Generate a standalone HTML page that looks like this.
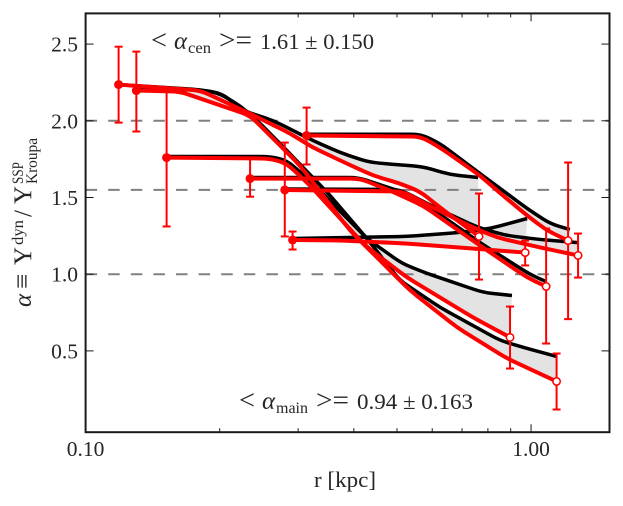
<!DOCTYPE html>
<html>
<head>
<meta charset="utf-8">
<title>Alpha vs radius chart</title>
<style>
html,body{margin:0;padding:0;background:#fff;width:623px;height:506px;overflow:hidden}
svg{display:block}
text{font-family:"Liberation Serif","DejaVu Serif",serif;fill:#262626}
</style>
</head>
<body>
<svg id="chart" width="623" height="506" viewBox="0 0 623 506" xmlns="http://www.w3.org/2000/svg">
  <g id="shades"></g>
  <g id="refs"></g>
  <g id="blacks"></g>
  <g id="reds"></g>
  <g id="errs"></g>
  <g id="dots"></g>
  <g id="axes"></g>

  <g font-size="22">
    <text x="151" y="49" font-size="27" textLength="16" lengthAdjust="spacingAndGlyphs">&lt;</text>
    <text x="174" y="49" font-style="italic" font-size="25">α</text>
    <text x="188" y="53" font-size="16" textLength="23" lengthAdjust="spacingAndGlyphs">cen</text>
    <text x="219" y="49" font-size="27" textLength="33" lengthAdjust="spacingAndGlyphs">&gt;=</text>
    <text x="260" y="49" textLength="114" lengthAdjust="spacingAndGlyphs">1.61 ± 0.150</text>
  </g>
  <g font-size="22">
    <text x="239" y="409" font-size="27" textLength="16" lengthAdjust="spacingAndGlyphs">&lt;</text>
    <text x="262" y="409" font-style="italic" font-size="25">α</text>
    <text x="276" y="413" font-size="16" textLength="32" lengthAdjust="spacingAndGlyphs">main</text>
    <text x="316" y="409" font-size="27" textLength="33" lengthAdjust="spacingAndGlyphs">&gt;=</text>
    <text x="357" y="409" textLength="116" lengthAdjust="spacingAndGlyphs">0.94 ± 0.163</text>
  </g>

  <text x="314" y="487" font-size="22.5" textLength="62" lengthAdjust="spacingAndGlyphs">r [kpc]</text>

  <g transform="translate(31,0) rotate(-90)" font-size="21">
    <text x="-307" y="0" font-style="italic" font-size="25">α</text>
    <text x="-289" y="0" font-size="27">≡</text>
    <text x="-265" y="0" font-size="25">Υ</text>
    <text x="-245" y="-8" font-size="16" textLength="25" lengthAdjust="spacingAndGlyphs">dyn</text>
    <text x="-217" y="0" font-size="25">/</text>
    <text x="-204" y="0" font-size="25">Υ</text>
    <text x="-184" y="-8" font-size="16" textLength="22" lengthAdjust="spacingAndGlyphs">SSP</text>
    <text x="-184" y="6" font-size="16" textLength="46" lengthAdjust="spacingAndGlyphs">Kroupa</text>
  </g>
</svg>
<script>
var NS = 'http://www.w3.org/2000/svg';

// axis limits
var xMin = 0.1, xMax = 1.5, yMin = -0.03, yMax = 2.7;
var xTickMajor = [1.0];
var xTickMinor = [0.2, 0.3, 0.4, 0.5, 0.6, 0.7, 0.8, 0.9];
var xTickLabels = ['0.10', '1.00'];
var xTickLabelValues = [0.1, 1.0];
var yTicks = [0.5, 1.0, 1.5, 2.0, 2.5];
var yTickLabels = ['0.5', '1.0', '1.5', '2.0', '2.5'];
var refLevels = [1.0, 1.55, 2.0];

// black profiles
var blackR1 = [0.1186, 0.181, 0.2025, 0.226, 0.264, 0.324, 0.3726, 0.428, 0.465, 0.569, 0.658, 0.7605];
var blackA1 = [2.236, 2.203, 2.177, 2.066, 2.001, 1.871, 1.793, 1.734, 1.721, 1.702, 1.650, 1.630];
var blackR2 = [0.130, 0.172, 0.198, 0.222, 0.243, 0.283, 0.354, 0.428, 0.508, 0.625, 0.852, 0.980, 1.141];
var blackA2 = [2.203, 2.203, 2.184, 2.099, 2.001, 1.806, 1.513, 1.233, 0.959, 0.783, 0.568, 0.516, 0.464];
var blackR3 = [0.152, 0.2595, 0.283, 0.319, 0.428, 0.513, 0.584, 0.682, 0.780, 0.906];
var blackA3 = [1.767, 1.767, 1.741, 1.610, 1.233, 1.070, 1.005, 0.939, 0.881, 0.861];
var blackR4 = [0.234, 0.409, 0.543, 0.768, 0.995, 1.081];
var blackA4 = [1.630, 1.630, 1.513, 1.206, 0.998, 0.952];
var blackR5 = [0.280, 0.508, 0.609, 0.7605, 0.883, 1.048, 1.275];
var blackA5 = [1.555, 1.552, 1.434, 1.304, 1.252, 1.226, 1.206];
var blackR6 = [0.3134, 0.566, 0.625, 0.768, 0.980, 1.103, 1.222];
var blackA6 = [1.912, 1.912, 1.851, 1.656, 1.428, 1.330, 1.291];
var blackR7 = [0.2915, 0.527, 0.693, 0.809, 0.980];
var blackA7 = [1.233, 1.246, 1.272, 1.298, 1.363];

// red profiles
var redR1 = [0.1186, 0.181, 0.234, 0.288, 0.324, 0.386, 0.442, 0.508, 0.563, 0.625, 0.764];
var redA1 = [2.236, 2.197, 2.047, 1.917, 1.825, 1.721, 1.643, 1.591, 1.539, 1.434, 1.246];
var redR2 = [0.130, 0.163, 0.234, 0.2595, 0.303, 0.392, 0.470, 0.535, 0.682, 0.883, 1.141];
var redA2 = [2.197, 2.190, 2.034, 1.904, 1.708, 1.285, 1.057, 0.894, 0.653, 0.451, 0.301];
var redR3 = [0.152, 0.2595, 0.283, 0.319, 0.424, 0.527, 0.741, 0.897];
var redA3 = [1.760, 1.754, 1.721, 1.578, 1.187, 0.978, 0.718, 0.588];
var redR4 = [0.234, 0.413, 0.4825, 0.572, 0.768, 0.980, 1.081];
var redA4 = [1.623, 1.623, 1.545, 1.447, 1.187, 0.978, 0.920];
var redR5 = [0.280, 0.516, 0.6025, 0.741, 0.839, 1.048, 1.275];
var redA5 = [1.549, 1.539, 1.434, 1.304, 1.239, 1.174, 1.122];
var redR6 = [0.3134, 0.566, 0.625, 0.768, 0.839, 0.980, 1.086, 1.211];
var redA6 = [1.904, 1.897, 1.825, 1.643, 1.545, 1.382, 1.285, 1.219];
var redR7 = [0.2915, 0.3726, 0.527, 0.741, 0.970];
var redA7 = [1.223, 1.220, 1.200, 1.167, 1.141];

// inner (filled) points with error bars
var innerR = [0.1186, 0.130, 0.152, 0.234, 0.280, 0.3134, 0.2915];
var innerA = [2.236, 2.197, 1.760, 1.623, 1.549, 1.904, 1.223];
var innerHi = [2.483, 2.451, 2.210, 1.760, 1.858, 2.086, 1.278];
var innerLo = [1.988, 1.930, 1.311, 1.505, 1.246, 1.715, 1.161];

// outer (open) points with error bars
var outerR = [0.764, 1.141, 0.897, 1.081, 1.275, 1.211, 0.970];
var outerA = [1.246, 0.301, 0.588, 0.920, 1.122, 1.219, 1.141];
var outerHi = [1.526, 0.483, 0.789, 1.298, 1.265, 1.728, 1.219];
var outerLo = [0.965, 0.118, 0.385, 0.548, 0.978, 0.707, 1.057];

var blackRs = [blackR1, blackR2, blackR3, blackR4, blackR5, blackR6, blackR7];
var blackAs = [blackA1, blackA2, blackA3, blackA4, blackA5, blackA6, blackA7];
var redRs = [redR1, redR2, redR3, redR4, redR5, redR6, redR7];
var redAs = [redA1, redA2, redA3, redA4, redA5, redA6, redA7];

var plotLeft = 85.6, plotRight = 609.5, plotTop = 13.4, plotBottom = 432.2;

function xScale(v) {
  return plotLeft + (Math.log(v / xMin) / Math.log(xMax / xMin)) * (plotRight - plotLeft);
}
function yScale(v) {
  return plotBottom - ((v - yMin) / (yMax - yMin)) * (plotBottom - plotTop);
}
function make(tag, parent, attrs) {
  var el = document.createElementNS(NS, tag);
  for (var k in attrs) el.setAttribute(k, attrs[k]);
  parent.appendChild(el);
  return el;
}
function pts(rs, as) {
  return rs.map(function (r, i) { return [xScale(r), yScale(as[i])]; });
}
function fmt(x, y) { return x.toFixed(2) + ' ' + y.toFixed(2); }
// straight runs joined by softly rounded corners
function curve(p) {
  var s = '', cut = 9;
  for (var i = 1; i < p.length - 1; i++) {
    var a = p[i - 1], b = p[i], c = p[i + 1];
    var la = Math.hypot(b[0] - a[0], b[1] - a[1]), lb = Math.hypot(c[0] - b[0], c[1] - b[1]);
    var ca = Math.min(cut, la * 0.45), cb = Math.min(cut, lb * 0.45);
    s += ' L' + fmt(b[0] + (a[0] - b[0]) * ca / la, b[1] + (a[1] - b[1]) * ca / la);
    s += ' Q' + fmt(b[0], b[1]) + ' ' + fmt(b[0] + (c[0] - b[0]) * cb / lb, b[1] + (c[1] - b[1]) * cb / lb);
  }
  var e = p[p.length - 1];
  return s + ' L' + fmt(e[0], e[1]);
}
function move(p) { return fmt(p[0], p[1]); }

var shades = document.getElementById('shades');
var refs = document.getElementById('refs');
var blacks = document.getElementById('blacks');
var reds = document.getElementById('reds');
var errs = document.getElementById('errs');
var dots = document.getElementById('dots');
var axes = document.getElementById('axes');

// shaded regions and profile lines
blackRs.forEach(function (rs, i) {
  var b = pts(rs, blackAs[i]);
  var r = pts(redRs[i], redAs[i]);
  var rr = r.slice().reverse();
  var band = make('path', shades, { d: 'M' + move(b[0]) + curve(b) + ' L' + move(rr[0]) + curve(rr) + ' Z', fill: '#e3e3e3', stroke: 'none' });
  
  
  var bl = make('path', blacks, { d: 'M' + move(b[0]) + curve(b), fill: 'none', stroke: '#000', 'stroke-width': 3.5, 'stroke-linejoin': 'round' });
  
  
  var rl = make('path', reds, { d: 'M' + move(r[0]) + curve(r), fill: 'none', stroke: '#ff0000', 'stroke-width': 4, 'stroke-linejoin': 'round' });
  
  
});

// dashed reference lines
refLevels.forEach(function (v) {
  var l = make('line', refs, { x1: plotLeft, x2: plotRight, y1: yScale(v), y2: yScale(v), stroke: '#808080', 'stroke-width': 2, 'stroke-dasharray': '11.5 11.1' });
  
  
});

// error bars
function errorBar(r, hi, lo) {
  var x = xScale(r), y1 = yScale(hi), y2 = yScale(lo);
  var a = make('line', errs, { x1: x, x2: x, y1: y1, y2: y2, stroke: '#ff0000', 'stroke-width': 2 });
  
  
  [y1, y2].forEach(function (y) {
    var c = make('line', errs, { x1: x - 4, x2: x + 4, y1: y, y2: y, stroke: '#ff0000', 'stroke-width': 2 });
    
    
  });
}
innerR.forEach(function (r, i) { errorBar(r, innerHi[i], innerLo[i]); });
outerR.forEach(function (r, i) { errorBar(r, outerHi[i], outerLo[i]); });

// markers
innerR.forEach(function (r, i) {
  var c = make('circle', dots, { cx: xScale(r), cy: yScale(innerA[i]), r: 4.5, fill: '#ff0000' });
  
  
});
outerR.forEach(function (r, i) {
  var c = make('circle', dots, { cx: xScale(r), cy: yScale(outerA[i]), r: 3.7, fill: '#fff', stroke: '#ff0000', 'stroke-width': 1.5 });
  
  
});

// frame
var frame = make('rect', axes, { x: plotLeft, y: plotTop, width: plotRight - plotLeft, height: plotBottom - plotTop, fill: 'none', stroke: '#1a1a1a', 'stroke-width': 2 });



// ticks
function tick(x1, y1, x2, y2) {
  var t = make('line', axes, { x1: x1, y1: y1, x2: x2, y2: y2, stroke: '#1a1a1a', 'stroke-width': 1 });
  
  
}
xTickMajor.forEach(function (v) {
  tick(xScale(v), plotBottom, xScale(v), plotBottom - 8);
  tick(xScale(v), plotTop, xScale(v), plotTop + 8);
});
xTickMinor.forEach(function (v) {
  tick(xScale(v), plotBottom, xScale(v), plotBottom - 4);
  tick(xScale(v), plotTop, xScale(v), plotTop + 4);
});
yTicks.forEach(function (v) {
  tick(plotLeft, yScale(v), plotLeft + 8, yScale(v));
  tick(plotRight, yScale(v), plotRight - 8, yScale(v));
});

// tick labels
xTickLabelValues.forEach(function (v, i) {
  var t = make('text', axes, { x: xScale(v), y: 456, 'text-anchor': 'middle', 'font-size': 21.5 });
  t.textContent = xTickLabels[i];
  
  
});
yTicks.forEach(function (v, i) {
  var t = make('text', axes, { x: 78, y: yScale(v) + 7.5, 'text-anchor': 'end', 'font-size': 21.5 });
  t.textContent = yTickLabels[i];
  
  
});
</script>
</body>
</html>
